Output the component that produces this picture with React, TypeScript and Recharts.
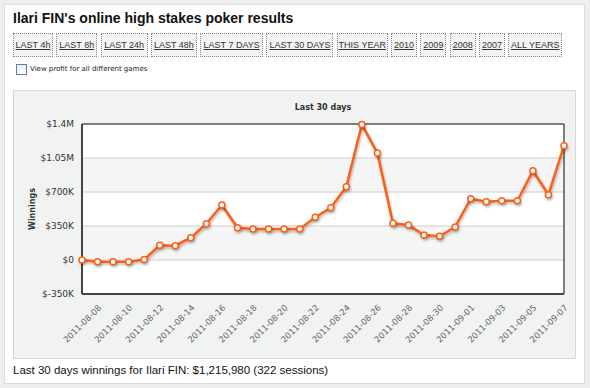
import React from 'react'
import {
  LineChart,
  Line,
  XAxis,
  YAxis,
  ReferenceArea,
  ReferenceLine,
} from 'recharts'

// cumulative winnings, one point per day (last 30 days + start)
const dates = [
  '2011-08-07', '2011-08-08', '2011-08-09', '2011-08-10', '2011-08-11', '2011-08-12',
  '2011-08-13', '2011-08-14', '2011-08-15', '2011-08-16', '2011-08-17', '2011-08-18',
  '2011-08-19', '2011-08-20', '2011-08-21', '2011-08-22', '2011-08-23', '2011-08-24',
  '2011-08-25', '2011-08-26', '2011-08-27', '2011-08-28', '2011-08-29', '2011-08-30',
  '2011-08-31', '2011-09-01', '2011-09-02', '2011-09-03', '2011-09-04', '2011-09-05',
  '2011-09-06', '2011-09-07',
]
const winnings = [
  0, -17000, -17000, -17000, 5000, 151000,
  147000, 230000, 374000, 566000, 332000, 319000,
  319000, 319000, 319000, 440000, 538000, 755000,
  1395000, 1101000, 378000, 360000, 257000, 244000,
  340000, 631000, 600000, 610000, 610000, 919000,
  672000, 1177000,
]
const xTicks = [
  '2011-08-08', '2011-08-10', '2011-08-12', '2011-08-14', '2011-08-16', '2011-08-18',
  '2011-08-20', '2011-08-22', '2011-08-24', '2011-08-26', '2011-08-28', '2011-08-30',
  '2011-09-01', '2011-09-03', '2011-09-05', '2011-09-07',
]
const yTicks = [-350000, 0, 350000, 700000, 1050000, 1400000]
const shadedBands = [
  [0, 350000],
  [700000, 1050000],
]
const periods = [
  'LAST 4h', 'LAST 8h', 'LAST 24h', 'LAST 48h', 'LAST 7 DAYS', 'LAST 30 DAYS',
  'THIS YEAR', '2010', '2009', '2008', '2007', 'ALL YEARS',
]
const periodWidths = [40, 41, 47, 46, 63, 67, 51, 26, 26, 26, 26, 54]

const data = dates.map((d, i) => ({ date: d, winnings: winnings[i] }))

const money = (v: number) => {
  if (v === 0) return '$0'
  if (Math.abs(v) >= 1000000) return `$${v / 1000000}M`
  return `$${v / 1000}K`
}

const ORANGE = '#ff5f14'
const VERDANA = '"DejaVu Sans", Verdana, sans-serif'
const ARIAL = '"Liberation Sans", Arial, sans-serif'

export default function App() {
  return (
    <div
      style={{
        position: 'absolute',
        left: 0,
        top: 0,
        width: 590,
        height: 388,
        background: '#eeeeee',
        fontFamily: ARIAL,
        overflow: 'hidden',
      }}
    >
      <div
        style={{
          position: 'absolute',
          left: 4,
          top: 4,
          width: 579,
          height: 378,
          background: '#fff',
          border: '1px solid #dddddd',
        }}
      />

      <div
        style={{
          position: 'absolute',
          left: 13,
          top: 10,
          fontSize: 14,
          fontWeight: 'bold',
          color: '#111',
        }}
      >
        Ilari FIN's online high stakes poker results
      </div>

      <div style={{ position: 'absolute', left: 13, top: 33, display: 'flex', gap: 3.3 }}>
        {periods.map((p, i) => (
          <div
            key={p}
            style={{
              boxSizing: 'border-box',
              width: periodWidths[i],
              height: 24,
              lineHeight: '22px',
              textAlign: 'center',
              border: '1px dotted #888',
              background: '#f3f3f3',
              fontSize: 9,
              color: '#333',
              textDecoration: 'underline',
              whiteSpace: 'nowrap',
              overflow: 'visible',
            }}
          >
            {p}
          </div>
        ))}
      </div>

      <div
        style={{
          position: 'absolute',
          left: 16,
          top: 64,
          width: 9,
          height: 9,
          border: '1px solid #5b7fa8',
          background: 'linear-gradient(#e8edf3, #ffffff)',
        }}
      />
      <div
        style={{
          position: 'absolute',
          left: 30,
          top: 65,
          fontSize: 7,
          fontFamily: VERDANA,
          color: '#222',
        }}
      >
        View profit for all different games
      </div>

      <div
        style={{
          position: 'absolute',
          left: 13,
          top: 90,
          width: 561,
          height: 267,
          background: '#f1f2f2',
          border: '1px solid #d6d6d6',
        }}
      />
      <div
        style={{
          position: 'absolute',
          left: 82,
          width: 482,
          top: 103,
          textAlign: 'center',
          fontSize: 8,
          fontWeight: 'bold',
          fontFamily: VERDANA,
          color: '#333',
        }}
      >
        Last 30 days
      </div>
      <div
        style={{
          position: 'absolute',
          left: 32,
          top: 209,
          transform: 'translate(-50%, -50%) rotate(-90deg)',
          fontSize: 8,
          fontWeight: 'bold',
          fontFamily: VERDANA,
          color: '#333',
        }}
      >
        Winnings
      </div>

      <div style={{ position: 'absolute', left: 13, top: 90 }}>
        <LineChart
          width={563}
          height={269}
          data={data}
          margin={{ top: 34, right: 12, bottom: 0, left: 0 }}
        >
          <XAxis
            dataKey="date"
            ticks={xTicks}
            interval={0}
            angle={-45}
            textAnchor="end"
            tickLine={false}
            tickMargin={4}
            height={65}
            axisLine={{ stroke: '#444', strokeWidth: 2 }}
            tick={{ fontSize: 8.5, fill: '#666', fontFamily: VERDANA }}
          />
          <YAxis
            domain={[-350000, 1400000]}
            ticks={yTicks}
            tickFormatter={money}
            width={69}
            tickLine={false}
            tickMargin={2}
            axisLine={{ stroke: '#444', strokeWidth: 2 }}
            tick={{ fontSize: 9, fill: '#333', fontFamily: VERDANA }}
          />
          <ReferenceArea y1={-350000} y2={1400000} fill="#ffffff" fillOpacity={1} />
          {shadedBands.map(([a, b]) => (
            <ReferenceArea key={a} y1={a} y2={b} fill="#f5f5f5" fillOpacity={1} />
          ))}
          {yTicks.slice(1, -1).map((t) => (
            <ReferenceLine key={t} y={t} stroke="#cccccc" strokeWidth={1} />
          ))}
          <ReferenceLine y={1400000} stroke="#555" strokeWidth={1.5} />
          <ReferenceLine x={dates[dates.length - 1]} stroke="#555" strokeWidth={1.5} />
          <Line
            type="linear"
            dataKey="winnings"
            stroke={ORANGE}
            strokeWidth={2.5}
            style={{ filter: 'drop-shadow(1px 2px 1px rgba(0,0,0,0.25))' }}
            dot={{ r: 3, fill: '#fff', stroke: ORANGE, strokeWidth: 1.5 }}
            isAnimationActive={false}
          />
        </LineChart>
      </div>

      <div
        style={{
          position: 'absolute',
          left: 13,
          top: 364,
          fontSize: 11.5,
          color: '#111',
        }}
      >
        Last 30 days winnings for Ilari FIN: $1,215,980 (322 sessions)
      </div>
    </div>
  )
}
